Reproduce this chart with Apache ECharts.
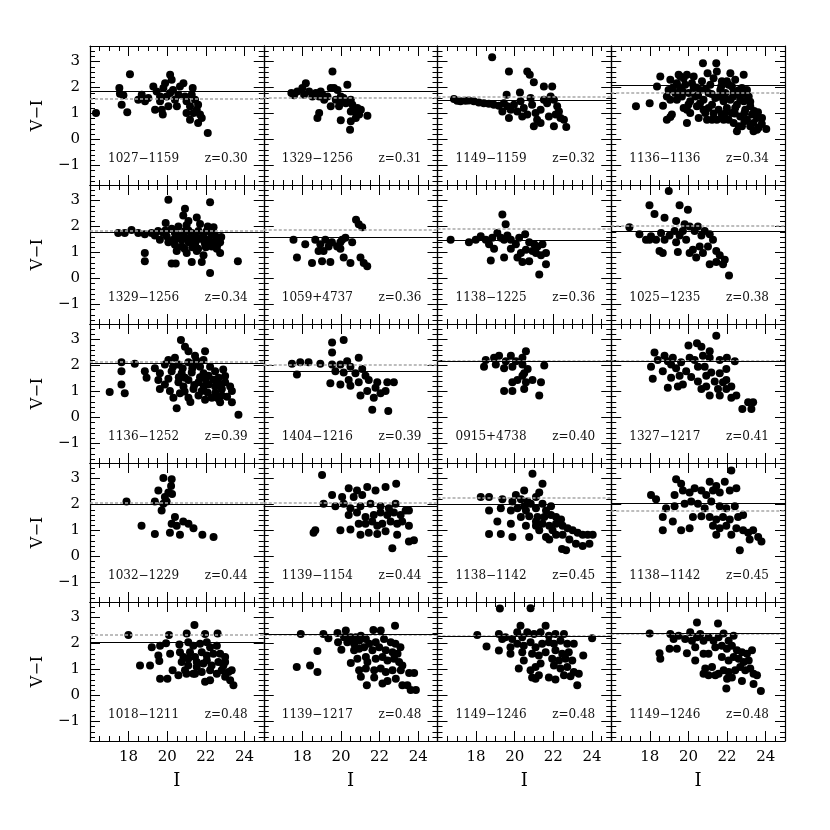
<!DOCTYPE html>
<html><head><meta charset="utf-8">
<script src="https://cdn.jsdelivr.net/npm/echarts@6/dist/echarts.min.js"></script>
<style>html,body{margin:0;padding:0;background:#fff}#c{width:830px;height:830px}</style>
</head><body><div id="c"></div>
<script>
// ---- data ----
const xMajorTicks = [18, 20, 22, 24];
const xMinorTicks = [16.5, 17, 17.5, 18.5, 19, 19.5, 20.5, 21, 21.5, 22.5, 23, 23.5, 24.5];
const yMajorTicks = [-1, 0, 1, 2, 3];
const yMinorTicks = [-1.6, -1.4, -1.2, -0.8, -0.6, -0.4, -0.2, 0.2, 0.4, 0.6, 0.8, 1.2, 1.4, 1.6, 1.8, 2.2, 2.4, 2.6, 2.8, 3.2, 3.4];
const clusterNames = [
  '1027−1159', '1329−1256', '1149−1159', '1136−1136',
  '1329−1256', '1059+4737', '1138−1225', '1025−1235',
  '1136−1252', '1404−1216', '0915+4738', '1327−1217',
  '1032−1229', '1139−1154', '1138−1142', '1138−1142',
  '1018−1211', '1139−1217', '1149−1246', '1149−1246'];
const redshiftLabels = [
  'z=0.30', 'z=0.31', 'z=0.32', 'z=0.34',
  'z=0.34', 'z=0.36', 'z=0.36', 'z=0.38',
  'z=0.39', 'z=0.39', 'z=0.40', 'z=0.41',
  'z=0.44', 'z=0.44', 'z=0.45', 'z=0.45',
  'z=0.48', 'z=0.48', 'z=0.48', 'z=0.48'];
const solidLevel = [1.87, 1.87, 1.52, 2.1, 1.8, 1.58, 1.47, 1.83, 2.08, 1.78, 2.18, 2.18, 2.0, 1.93, 2.0, 2.05, 2.06, 2.35, 2.27, 2.4];
const greyLevel  = [1.56, 1.6, 1.64, 1.8, 1.83, 1.88, 1.9, 2.04, 2.13, 2.03, 2.2, 2.2, 2.08, 2.06, 2.25, 1.78, 2.34, 2.35, 2.3, 2.38];

const p01 = [[16.31,1.02],[18.07,2.51],[17.52,1.98],[17.55,1.76],[17.73,1.7],[17.64,1.34],[17.93,1.05],[18.5,1.53],[18.68,1.72],[18.85,1.47],[19.28,2.04],[19.45,1.85],[19.37,1.15],[19.77,0.96],[19.63,1.66],[19.8,1.98],[19.97,1.66],[20.15,2.49],[20.23,2.3],[20.06,1.28],[20.3,1.91],[20.4,1.53],[20.5,1.28],[20.58,1.72],[20.66,2.04],[20.84,2.17],[20.92,1.66],[21.0,1.47],[21.18,1.28],[21.27,1.72],[21.32,1.98],[21.44,1.53],[21.53,1.15],[21.6,1.34],[21.18,0.76],[21.7,0.96],[21.79,0.83],[21.6,0.64],[22.1,0.25],[19.63,1.47],[19.02,1.6],[19.89,2.17],[20.15,1.79],[19.72,1.15],[21.36,1.02],[21.0,1.02]];
const p02 = [[17.43,1.79],[17.57,1.7],[17.74,1.85],[18.0,1.98],[18.18,2.17],[18.09,1.72],[18.35,1.85],[18.52,1.66],[18.7,1.79],[18.87,1.66],[18.95,1.85],[19.13,1.53],[19.3,1.66],[19.47,1.28],[19.56,2.62],[19.47,1.98],[19.64,1.98],[19.82,1.91],[19.99,1.66],[19.99,1.47],[20.13,1.6],[20.33,2.11],[20.25,1.4],[20.51,1.53],[20.59,1.34],[20.68,1.08],[20.85,1.21],[21.03,1.15],[20.94,0.96],[20.77,0.83],[20.51,0.7],[20.47,0.38],[19.99,0.74],[18.87,1.02],[18.78,0.83],[21.37,0.92],[19.73,1.53],[19.04,1.72],[19.9,1.28],[20.51,1.08]];
const p03 = [[16.85,1.56],[17.02,1.49],[17.19,1.47],[17.45,1.49],[17.62,1.5],[17.88,1.47],[18.14,1.43],[18.4,1.4],[18.66,1.38],[18.92,1.34],[19.18,1.3],[18.83,3.17],[19.7,2.62],[20.65,2.62],[20.78,2.49],[20.99,2.2],[21.51,2.04],[21.94,2.04],[20.27,1.81],[19.58,1.72],[19.36,1.08],[19.62,1.28],[19.79,1.15],[19.7,0.83],[19.96,1.34],[20.13,1.08],[20.3,1.47],[20.47,1.21],[20.65,0.96],[20.82,1.6],[20.9,1.34],[21.08,1.02],[21.16,0.76],[20.99,0.51],[21.34,0.64],[21.51,1.53],[21.68,1.4],[21.86,1.66],[22.03,1.53],[22.2,1.28],[22.29,1.08],[22.12,0.96],[22.37,0.83],[22.03,0.51],[22.67,0.48],[22.55,0.76],[21.77,0.89],[21.34,1.15],[20.39,0.89],[19.44,1.4]];
const p04 = [[17.28,1.28],[17.99,1.4],[18.68,1.3],[18.37,2.04],[18.54,2.43],[18.88,1.66],[18.97,1.91],[19.06,2.3],[18.88,0.76],[19.06,0.87],[19.14,0.96],[19.32,1.79],[19.4,2.17],[19.49,2.49],[19.58,1.98],[19.66,1.66],[19.75,2.36],[19.83,2.11],[19.92,2.49],[20.01,1.79],[20.09,1.47],[19.92,1.15],[19.92,0.64],[20.18,2.17],[20.27,2.43],[20.35,1.66],[20.44,1.28],[20.53,0.83],[20.61,1.91],[20.7,2.24],[20.75,2.94],[20.78,1.53],[20.87,1.02],[20.96,0.76],[20.99,2.55],[21.04,1.79],[21.13,2.11],[21.22,1.34],[21.3,2.36],[21.39,1.6],[21.44,2.94],[21.47,2.62],[21.56,1.15],[21.47,0.76],[21.65,1.91],[21.73,2.24],[21.82,1.47],[21.82,0.76],[21.91,1.79],[21.99,1.21],[22.08,2.11],[22.17,2.55],[22.17,1.53],[22.25,1.02],[22.34,1.85],[22.34,0.64],[22.42,2.3],[22.51,1.34],[22.51,0.32],[22.6,1.72],[22.68,0.89],[22.77,1.98],[22.86,2.49],[22.86,1.47],[22.94,1.15],[23.03,0.76],[23.12,1.66],[23.2,1.28],[23.29,0.96],[23.37,0.64],[23.37,0.32],[23.55,0.83],[23.63,0.45],[23.81,0.83],[24.03,0.41],[23.55,0.38],[23.03,1.91],[21.04,1.21],[20.09,1.02],[19.4,1.53],[19.58,2.43],[20.27,1.98],[21.22,0.76],[22.08,0.76],[22.6,0.51],[22.77,0.51],[21.73,0.96],[22.68,1.53],[22.25,2.04],[19.06,1.53],[19.75,1.21],[20.78,1.15],[21.99,2.24],[22.42,1.21],[22.9,1.02],[23.2,0.51],[20.5,1.7],[20.9,1.95],[21.2,1.75],[21.6,1.65],[21.9,1.6],[22.3,1.65],[22.6,1.9],[22.9,1.75],[23.2,1.45],[23.4,1.1],[22.9,0.7],[22.4,1.0],[21.9,1.0],[21.3,1.0],[20.6,1.4],[20.0,1.35],[19.7,1.85],[19.2,2.0],[20.4,2.0],[21.7,2.05],[23.6,1.05],[23.8,0.6]];
const p05 = [[20.06,3.03],[22.22,2.94],[20.92,2.69],[20.83,2.43],[21.53,2.35],[21.1,2.21],[19.92,2.14],[22.4,1.97],[17.46,1.75],[17.8,1.75],[18.15,1.87],[18.5,1.75],[18.84,1.7],[19.19,1.75],[19.53,1.83],[19.8,1.75],[20.23,1.92],[20.58,2.0],[19.62,1.49],[19.97,1.63],[20.32,1.49],[20.67,1.66],[20.92,1.83],[21.27,1.75],[21.62,1.83],[21.88,1.66],[22.14,1.49],[22.48,1.66],[22.74,1.4],[22.31,1.23],[21.96,1.32],[21.44,1.32],[21.1,1.4],[20.75,1.23],[20.49,1.06],[21.01,0.98],[21.27,0.64],[21.79,0.64],[21.88,0.9],[22.22,0.21],[22.57,1.15],[18.84,0.98],[18.84,0.67],[20.23,0.58],[20.44,0.58],[23.66,0.67],[22.74,0.98],[21.53,1.06],[20.06,1.4],[19.36,1.66],[20.75,1.49],[22.05,1.83],[20.4,1.75],[20.6,1.55],[20.9,1.6],[21.1,1.85],[21.2,1.55],[21.4,1.7],[21.5,1.45],[21.7,1.55],[21.9,1.45],[22.0,1.2],[22.2,1.35],[22.3,1.7],[22.5,1.45],[22.6,1.3],[21.3,1.2],[21.6,1.15],[20.9,1.15],[20.4,1.3],[22.8,1.6],[19.9,1.85],[21.0,2.05],[21.7,2.1],[22.1,2.0]];
const p06 = [[20.78,2.26],[20.92,2.09],[21.1,1.97],[17.54,1.49],[18.15,1.32],[17.72,0.81],[18.5,0.6],[18.67,1.49],[18.93,1.32],[18.84,1.06],[19.02,0.67],[19.19,1.49],[19.36,1.23],[19.53,1.4],[19.45,0.64],[19.8,1.23],[19.97,1.4],[20.06,1.49],[19.97,1.15],[20.23,1.57],[20.14,0.81],[20.58,1.4],[20.49,0.6],[21.01,0.81],[21.18,0.6],[21.36,0.47],[19.1,1.06]];
const p07 = [[19.36,2.46],[19.53,2.09],[16.68,1.49],[17.63,1.4],[17.98,1.49],[18.24,1.63],[18.5,1.49],[18.67,1.32],[18.84,1.57],[19.1,1.75],[19.28,1.57],[19.45,1.49],[19.62,1.66],[19.8,1.49],[20.06,1.32],[20.23,1.57],[20.54,1.7],[20.75,1.4],[21.01,1.32],[21.18,1.23],[21.44,1.32],[21.62,0.98],[21.36,0.9],[21.1,0.98],[20.92,1.06],[20.58,1.11],[20.32,0.98],[20.14,0.81],[20.4,0.64],[20.75,0.67],[21.27,0.16],[21.62,0.55],[18.76,0.69],[19.45,0.81],[19.8,1.15],[18.93,1.15]];
const p08 = [[18.98,3.37],[17.98,2.82],[18.24,2.48],[18.76,2.34],[19.54,2.82],[19.97,2.65],[19.36,2.21],[19.8,2.09],[16.94,1.97],[17.46,1.7],[17.8,1.49],[18.06,1.63],[18.32,1.49],[18.58,1.75],[18.76,1.49],[19.02,1.66],[19.28,1.83],[19.54,1.66],[19.71,1.83],[20.06,2.0],[20.32,1.83],[20.49,2.0],[20.67,1.66],[20.84,1.83],[21.1,1.7],[21.27,1.49],[21.01,1.23],[20.58,1.23],[20.23,1.11],[20.75,0.98],[20.4,0.81],[19.88,1.49],[19.36,1.4],[18.5,1.06],[18.67,0.98],[19.45,1.02],[21.44,1.06],[21.62,0.9],[21.1,0.55],[21.44,0.64],[21.79,0.55],[21.88,0.72],[22.1,0.12],[17.98,1.49],[20.06,0.98]];
const p09 = [[20.71,2.98],[20.92,2.72],[21.1,2.55],[21.96,2.55],[21.44,2.38],[21.88,2.21],[17.63,2.13],[18.32,2.07],[20.06,2.21],[20.4,2.3],[19.88,2.04],[20.58,2.04],[21.1,2.13],[21.44,2.04],[21.7,1.95],[22.22,1.95],[22.48,1.78],[17.63,1.78],[18.84,1.78],[19.36,1.9],[19.62,1.7],[20.23,1.78],[20.75,1.7],[21.27,1.73],[21.88,1.7],[22.66,1.53],[23.0,1.36],[18.93,1.53],[19.54,1.44],[20.06,1.49],[20.58,1.36],[21.1,1.44],[21.62,1.36],[22.14,1.27],[22.48,1.19],[22.83,1.1],[23.26,1.19],[23.35,1.02],[17.02,0.98],[17.8,0.93],[17.63,1.27],[19.62,1.1],[20.14,1.02],[20.66,0.93],[21.1,0.76],[21.62,0.85],[21.96,0.68],[22.31,0.76],[22.74,0.59],[22.83,0.85],[23.35,0.59],[20.49,0.36],[23.69,0.11],[20.84,1.19],[21.36,1.1],[21.79,1.02],[20.92,1.53],[22.14,1.61],[19.88,1.27],[20.32,0.76],[20.3,1.95],[20.8,1.9],[21.3,1.9],[21.7,1.55],[22.0,1.45],[22.4,1.45],[22.7,1.3],[21.9,1.2],[22.5,0.95],[22.1,0.95],[21.4,1.25],[20.9,1.0],[21.2,0.6],[22.6,0.75],[23.1,0.8],[23.0,1.6],[20.6,1.55],[21.5,2.2],[22.9,1.85]];
const p10 = [[19.54,2.89],[20.14,2.98],[19.54,2.5],[17.46,2.07],[17.89,2.13],[18.32,2.13],[18.93,2.07],[19.54,2.04],[19.97,2.04],[20.32,2.17],[20.92,2.3],[17.72,1.66],[19.71,1.78],[20.14,1.73],[20.49,1.95],[20.75,1.7],[21.1,1.87],[21.27,1.61],[19.45,1.32],[19.97,1.27],[20.49,1.22],[20.4,1.44],[20.92,1.36],[21.44,1.44],[21.88,1.36],[22.4,1.36],[22.74,1.36],[21.01,0.85],[21.7,0.76],[22.05,0.93],[22.31,1.02],[21.62,0.3],[22.45,0.25],[21.36,1.02],[21.79,1.15]];
const p11 = [[20.58,2.55],[18.5,2.21],[18.93,2.3],[19.19,2.38],[19.54,2.17],[19.8,2.38],[20.06,2.17],[20.4,2.3],[18.41,1.95],[19.02,2.04],[19.45,1.9],[19.88,1.95],[20.4,2.04],[20.67,1.87],[21.53,2.0],[20.49,1.7],[20.14,1.44],[19.88,1.36],[20.58,1.36],[20.92,1.44],[21.36,1.36],[19.45,1.02],[19.88,1.02],[20.49,1.1],[21.27,0.85],[20.4,1.61]];
const p12 = [[21.44,3.15],[20.44,2.86],[20.0,2.77],[20.67,2.72],[21.1,2.55],[21.99,2.3],[18.24,2.5],[18.76,2.38],[18.41,2.21],[18.93,2.17],[19.19,2.3],[19.62,2.13],[20.06,2.3],[20.32,2.21],[20.75,2.38],[21.1,2.3],[21.62,2.21],[22.4,2.17],[18.06,1.95],[18.67,1.78],[19.1,2.04],[19.36,1.9],[19.88,1.78],[20.49,1.95],[20.84,1.95],[21.18,1.73],[20.92,1.61],[21.62,1.7],[21.96,1.87],[18.15,1.49],[19.1,1.53],[19.54,1.61],[20.14,1.56],[20.49,1.39],[21.36,1.39],[21.79,1.36],[21.96,1.44],[18.93,1.15],[19.45,1.19],[19.71,1.27],[20.67,1.1],[20.92,1.19],[21.53,1.1],[21.96,1.1],[22.22,1.19],[21.1,0.85],[21.62,0.85],[22.22,0.76],[22.48,0.85],[23.09,0.59],[23.35,0.59],[22.79,0.33],[23.26,0.33]];
const p13 = [[19.8,3.02],[20.23,2.97],[20.2,2.71],[20.06,2.46],[19.54,2.54],[19.88,2.29],[20.25,2.41],[17.89,2.12],[19.36,2.12],[19.8,2.03],[19.97,2.12],[19.71,1.77],[20.4,1.52],[20.23,1.26],[20.49,1.18],[20.83,1.35],[21.1,1.26],[21.36,1.09],[20.66,0.84],[20.14,0.92],[18.67,1.18],[19.36,0.87],[21.82,0.84],[22.4,0.75]];
const p14 = [[19.02,3.14],[20.4,2.63],[20.83,2.54],[21.36,2.68],[21.79,2.54],[22.31,2.68],[22.86,2.8],[19.54,2.37],[20.06,2.29],[20.66,2.29],[21.1,2.37],[19.1,2.03],[19.71,1.94],[20.14,2.03],[20.49,1.86],[21.01,1.94],[21.53,2.03],[22.05,1.94],[22.48,1.86],[22.83,2.03],[20.4,1.6],[20.83,1.69],[21.27,1.52],[21.7,1.6],[22.05,1.69],[22.4,1.6],[22.74,1.69],[23.09,1.6],[23.35,1.77],[20.92,1.26],[21.27,1.26],[21.62,1.35],[21.88,1.18],[22.14,1.26],[22.57,1.35],[22.91,1.26],[23.17,1.35],[23.52,1.18],[19.97,1.01],[20.49,1.04],[21.01,0.84],[21.44,0.92],[21.88,0.87],[22.31,0.97],[22.91,0.84],[23.52,0.58],[23.78,0.63],[22.66,0.32],[18.67,1.01],[18.58,0.92],[23.52,1.77]];
const p15 = [[20.92,3.19],[21.44,2.8],[20.49,2.54],[20.06,2.37],[18.24,2.29],[18.67,2.29],[19.36,2.2],[19.88,2.12],[20.32,2.2],[20.66,2.12],[21.1,2.29],[21.27,2.46],[18.67,1.77],[19.28,1.86],[19.8,1.77],[20.14,1.86],[20.49,1.94],[20.83,2.03],[21.1,1.86],[21.44,2.03],[21.62,1.77],[21.88,1.94],[20.32,1.52],[20.75,1.55],[21.18,1.52],[21.53,1.52],[21.88,1.6],[22.14,1.52],[22.4,1.43],[19.1,1.35],[19.8,1.26],[20.58,1.18],[21.1,1.18],[21.44,1.26],[21.79,1.18],[22.14,1.26],[22.48,1.18],[22.74,1.09],[23.0,1.01],[23.26,0.92],[23.52,0.84],[23.78,0.84],[24.04,0.84],[18.67,0.87],[19.28,0.87],[19.88,0.75],[20.75,0.75],[21.62,0.75],[22.14,0.84],[22.83,0.66],[23.17,0.49],[23.52,0.41],[23.87,0.49],[22.45,0.29],[22.66,0.24],[21.79,0.66],[21.27,1.01],[21.96,1.01],[22.48,0.84],[20.58,1.77],[21.1,1.35]];
const p16 = [[22.22,3.31],[21.88,2.88],[19.36,2.97],[19.62,2.8],[21.1,2.88],[21.44,2.71],[18.06,2.37],[18.32,2.2],[19.28,2.37],[19.71,2.54],[20.06,2.46],[20.32,2.63],[20.67,2.54],[20.92,2.37],[21.27,2.54],[21.62,2.46],[22.14,2.54],[22.48,2.63],[18.84,1.86],[19.28,1.94],[19.8,2.03],[20.14,2.12],[20.49,2.03],[20.84,1.86],[21.18,2.12],[21.62,1.94],[21.96,1.86],[22.4,1.94],[18.67,1.52],[19.19,1.35],[20.23,1.52],[20.67,1.55],[21.1,1.52],[21.44,1.43],[21.79,1.52],[22.14,1.43],[22.57,1.52],[22.83,1.6],[18.67,1.01],[19.62,1.01],[20.06,1.09],[21.27,1.18],[21.62,1.09],[21.96,1.18],[22.48,1.09],[22.83,1.01],[23.09,0.92],[23.35,1.01],[23.61,0.75],[23.78,0.58],[22.66,0.24],[23.17,0.66],[22.22,0.84],[21.44,0.84]];
const p17 = [[17.99,2.33],[20.09,2.33],[21.41,2.71],[21.01,2.39],[21.96,2.37],[22.61,2.39],[20.63,1.96],[21.09,2.05],[21.35,1.92],[21.7,1.99],[22.05,2.05],[22.22,1.86],[22.57,1.92],[19.2,1.86],[19.63,1.92],[19.94,2.01],[19.54,1.54],[20.15,1.61],[19.59,1.33],[20.66,1.67],[20.84,1.48],[21.18,1.67],[21.44,1.48],[21.79,1.67],[22.05,1.54],[22.39,1.61],[22.74,1.61],[23.0,1.48],[20.75,1.29],[21.09,1.16],[21.53,1.29],[21.87,1.23],[22.3,1.16],[22.65,1.29],[22.91,1.16],[18.59,1.16],[19.11,1.16],[20.28,0.97],[20.58,0.78],[20.92,0.97],[21.35,0.84],[21.79,0.91],[22.22,0.97],[22.57,0.84],[22.82,0.97],[23.17,0.91],[23.34,0.97],[23.0,0.72],[23.26,0.59],[23.43,0.4],[19.63,0.65],[20.01,0.65],[21.0,0.84],[21.44,0.84],[21.96,0.53],[22.22,0.59],[21.53,1.1],[21.09,1.42],[22.05,1.35],[23.0,1.29]];
const p18 = [[17.92,2.37],[22.8,2.69],[19.09,2.37],[19.35,2.2],[19.82,2.41],[20.25,2.5],[20.16,2.24],[20.51,2.24],[20.77,2.24],[21.03,2.3],[21.29,2.18],[21.68,2.52],[22.06,2.5],[19.85,2.05],[20.33,2.05],[20.68,1.99],[20.94,2.11],[21.46,1.99],[21.8,2.05],[22.23,2.18],[22.58,2.05],[22.82,1.99],[23.08,1.86],[20.02,1.76],[20.68,1.74],[20.94,1.8],[21.2,1.86],[21.63,1.74],[21.98,1.86],[22.32,1.74],[22.67,1.67],[22.93,1.61],[18.78,1.71],[20.51,1.25],[20.85,1.42],[21.29,1.48],[21.37,1.29],[21.8,1.42],[22.15,1.48],[22.41,1.35],[22.75,1.42],[23.01,1.29],[23.18,1.16],[17.71,1.1],[18.4,1.16],[18.78,0.91],[20.94,0.97],[21.29,1.04],[21.72,0.97],[22.06,1.04],[22.32,0.91],[22.67,0.97],[23.1,0.97],[23.53,0.87],[23.79,0.87],[21.03,0.72],[21.72,0.69],[22.15,0.46],[22.41,0.56],[22.84,0.65],[21.34,0.4],[23.18,0.4],[23.44,0.4],[23.61,0.21],[23.88,0.21]];
const p19 = [[19.23,3.35],[20.82,3.36],[18.06,2.33],[24.01,2.2],[20.3,2.69],[21.6,2.69],[18.54,1.89],[19.18,2.37],[19.35,2.18],[19.18,1.73],[19.52,2.24],[19.87,2.18],[20.13,2.44],[20.39,2.24],[20.65,2.44],[21.0,2.37],[21.34,2.44],[21.77,2.3],[22.11,2.37],[22.55,2.37],[19.78,1.86],[20.13,1.99],[20.47,1.92],[20.82,2.05],[21.08,1.86],[21.42,1.99],[21.77,2.05],[22.03,1.99],[22.37,2.11],[22.72,1.99],[23.06,1.99],[19.78,1.61],[20.39,1.67],[20.9,1.61],[21.25,1.54],[21.6,1.67],[22.11,1.74],[22.46,1.61],[22.8,1.67],[23.55,1.54],[20.47,1.35],[21.34,1.23],[21.94,1.42],[22.29,1.35],[22.63,1.42],[22.98,1.35],[20.21,1.04],[20.82,0.97],[21.08,1.1],[22.03,1.16],[22.37,1.04],[22.72,1.1],[23.06,0.91],[23.32,0.84],[20.9,0.69],[21.25,0.78],[21.77,0.69],[22.11,0.62],[22.55,0.78],[22.89,0.74],[23.24,0.4],[21.08,0.65]];
const p20 = [[17.99,2.39],[20.44,2.81],[21.53,2.77],[18.5,1.63],[18.54,1.42],[19.02,1.8],[19.4,1.8],[19.06,2.37],[19.23,2.18],[19.49,2.3],[19.83,2.18],[19.92,1.63],[20.09,2.44],[20.18,2.11],[20.35,1.86],[20.44,2.24],[20.61,2.37],[20.78,2.11],[21.04,2.24],[21.3,2.11],[21.56,2.24],[21.82,2.39],[22.08,2.11],[22.34,2.3],[20.35,1.35],[20.78,1.61],[21.04,1.61],[21.39,1.86],[21.73,1.92],[21.99,1.8],[22.25,1.92],[22.51,1.74],[22.77,1.67],[23.03,1.61],[23.29,1.74],[21.73,1.48],[22.08,1.35],[22.34,1.48],[22.6,1.42],[22.86,1.29],[23.12,1.35],[20.87,1.04],[21.22,1.1],[20.78,0.84],[21.04,0.78],[21.56,0.84],[21.82,0.97],[22.08,0.91],[22.42,0.97],[22.68,1.1],[22.94,0.97],[23.2,1.04],[23.37,0.84],[23.55,0.78],[22.0,0.65],[22.25,0.69],[22.77,0.56],[23.37,0.44],[21.96,0.27],[23.75,0.17],[21.39,0.78]];
const panelData = [p01,p02,p03,p04,p05,p06,p07,p08,p09,p10,p11,p12,p13,p14,p15,p16,p17,p18,p19,p20];

// ---- layout ----
const NROW = 5, NCOL = 4;
const L0 = 90, T0 = 46, CW = 173.75, CH = 139;
const XMIN = 16, XMAX = 25, YMIN = -1.75, YMAX = 3.6;
const serif = 'DejaVu Serif';
const fmtY = v => v < 0 ? '−' + Math.abs(v) : String(v);

const grids = [], xAxes = [], yAxes = [], series = [], graphics = [];
for (let i = 0; i < NROW * NCOL; i++) {
  const r = Math.floor(i / NCOL), c = i % NCOL;
  const left = L0 + c * CW, top = T0 + r * CH;
  grids.push({ left: left, top: top, width: CW, height: CH, containLabel: false });
  const isBottom = r === NROW - 1, isLeft = c === 0;
  const mkX = (pos, ticks, len, main) => ({
    type: 'value', gridIndex: i, position: pos, min: XMIN, max: XMAX,
    axisLine: { show: main, onZero: false, lineStyle: { color: '#000', width: 1.2 } },
    axisTick: { show: true, inside: true, length: len, customValues: ticks, lineStyle: { color: '#000', width: 1 } },
    axisLabel: (main && pos === 'bottom' && isBottom) ? { show: true, customValues: xMajorTicks, margin: 9, color: '#000', fontFamily: serif, fontSize: 15 } : { show: false },
    splitLine: { show: false },
    name: (main && pos === 'bottom' && isBottom) ? 'I' : '',
    nameLocation: 'middle', nameGap: 31,
    nameTextStyle: { fontFamily: serif, fontSize: 18, color: '#000' }
  });
  const mkY = (pos, ticks, len, main) => ({
    type: 'value', gridIndex: i, position: pos, min: YMIN, max: YMAX,
    axisLine: { show: main, onZero: false, lineStyle: { color: '#000', width: 1.2 } },
    axisTick: { show: true, inside: true, length: len, customValues: ticks, lineStyle: { color: '#000', width: 1 } },
    axisLabel: (main && pos === 'left' && isLeft) ? { show: true, customValues: yMajorTicks, margin: 10, color: '#000', fontFamily: serif, fontSize: 15, formatter: fmtY } : { show: false },
    splitLine: { show: false },
    name: (main && pos === 'left' && isLeft) ? 'V−I' : '',
    nameLocation: 'middle', nameGap: 44, nameRotate: 90,
    nameTextStyle: { fontFamily: serif, fontSize: 16, color: '#000' }
  });
  const xBase = xAxes.length, yBase = yAxes.length;
  xAxes.push(mkX('bottom', xMajorTicks, 10, true));
  xAxes.push(mkX('bottom', xMinorTicks, 5, false));
  xAxes.push(mkX('top', xMajorTicks, 10, true));
  xAxes.push(mkX('top', xMinorTicks, 5, false));
  yAxes.push(mkY('left', yMajorTicks, 10, true));
  yAxes.push(mkY('left', yMinorTicks, 5, false));
  yAxes.push(mkY('right', yMajorTicks, 10, true));
  yAxes.push(mkY('right', yMinorTicks, 5, false));

  series.push({
    type: 'scatter', xAxisIndex: xBase, yAxisIndex: yBase,
    data: panelData[i], symbol: 'circle', symbolSize: 8,
    itemStyle: { color: '#000', opacity: 1 }, silent: true, animation: false,
    markLine: {
      silent: true, symbol: 'none', animation: false, label: { show: false },
      data: [
        { yAxis: greyLevel[i], lineStyle: { color: '#a8a8a8', width: 1.6, type: [3, 2] } },
        { yAxis: solidLevel[i], lineStyle: { color: '#000', width: 1.1, type: 'solid' } }
      ]
    }
  });

  graphics.push({ type: 'text', left: left + 18, top: top + 107,
    style: { text: clusterNames[i], font: '12px "DejaVu Serif"', fill: '#111' } });
  graphics.push({ type: 'text', right: 830 - (left + CW - 16), top: top + 107,
    style: { text: redshiftLabels[i], font: '12px "DejaVu Serif"', fill: '#111', textAlign: 'right' } });
}

const chart = echarts.init(document.getElementById('c'), null, { renderer: 'canvas' });
chart.setOption({
  animation: false,
  backgroundColor: '#fff',
  grid: grids, xAxis: xAxes, yAxis: yAxes, series: series,
  graphic: graphics
});
</script></body></html>
